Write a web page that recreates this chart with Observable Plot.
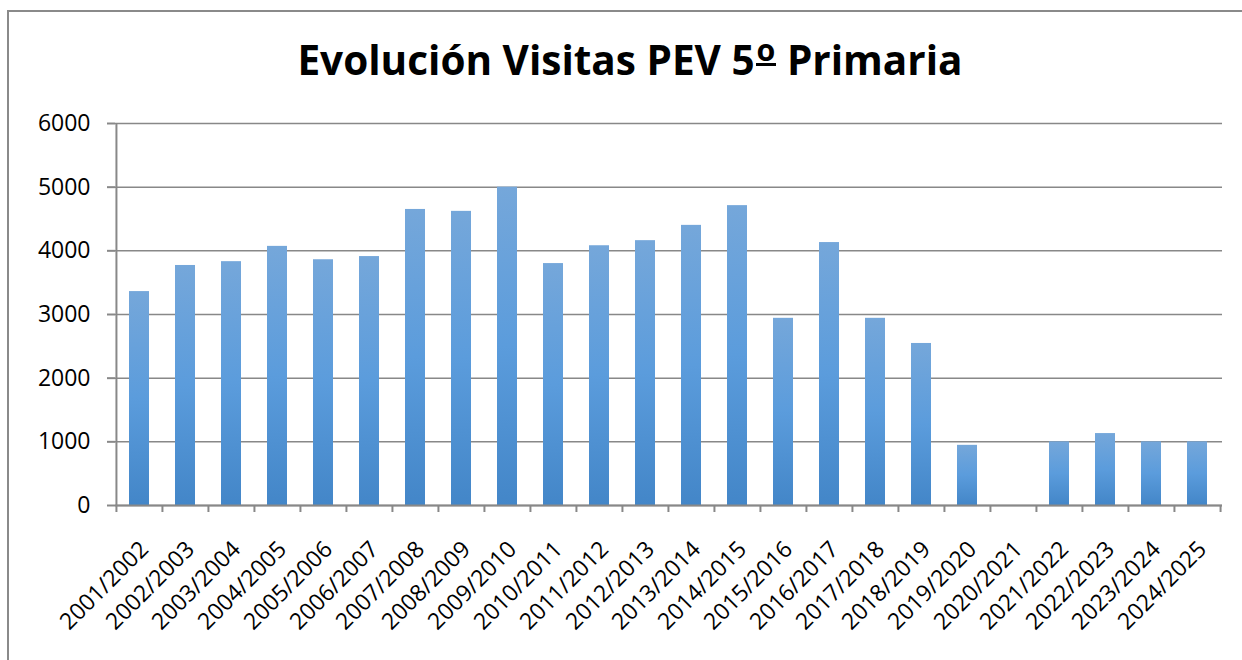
<!DOCTYPE html>
<html>
<head>
<meta charset="utf-8">
<script src="https://cdn.jsdelivr.net/npm/d3@7"></script>
<script src="https://cdn.jsdelivr.net/npm/@observablehq/plot@0.6"></script>
<style>
  html, body { margin: 0; padding: 0; background: #fff; width: 1242px; height: 660px; overflow: hidden; }
  #wrap { position: relative; width: 1242px; height: 660px; }
  #border { position: absolute; left: 7px; top: 10px; width: 1300px; height: 700px; border: 2px solid #8a8a8a; box-sizing: border-box; }
  #title { position: absolute; left: 0; width: 1260px; top: 33px; text-align: center; font-family: "Open Sans", sans-serif; font-weight: 700; font-size: 40.5px; color: #000; line-height: 54px; }
  #title .ord { display: inline-block; line-height: 0.9; border-bottom: 3px solid #000; vertical-align: 14px; font-size: 0.75em; padding: 0 1px; margin-left: 1px; }
  #chart { position: absolute; left: 0; top: 100px; }
</style>
</head>
<body>
<div id="wrap">
  <div id="border"></div>
  <div id="title">Evolución Visitas PEV 5<span class="ord">o</span> Primaria</div>
  <div id="chart"></div>
</div>
<script>
const cursos = ["2001/2002","2002/2003","2003/2004","2004/2005","2005/2006","2006/2007","2007/2008","2008/2009","2009/2010","2010/2011","2011/2012","2012/2013","2013/2014","2014/2015","2015/2016","2016/2017","2017/2018","2018/2019","2019/2020","2020/2021","2021/2022","2022/2023","2023/2024","2024/2025"];
const visitas = [3360,3770,3830,4070,3860,3910,4650,4620,5000,3800,4080,4160,4400,4710,2940,4130,2940,2545,945,0,1000,1130,1000,1000];
const yTicks = [0,1000,2000,3000,4000,5000,6000];

const data = cursos.map((c, i) => ({curso: c, visitas: visitas[i]}));

const W = 1242, H = 560, mL = 115, mR = 20, mT = 23, mB = 155;
const step = (W - mL - mR) / cursos.length;
const tickLen = 110; // data units below zero for tick marks
const gridColor = "#888888";

const defs = () => {
  const d = d3.create("svg:defs");
  const g = d.append("linearGradient").attr("id", "barGrad").attr("x1", 0).attr("y1", 0).attr("x2", 0).attr("y2", 1);
  g.append("stop").attr("offset", "0%").attr("stop-color", "#75a7da");
  g.append("stop").attr("offset", "50%").attr("stop-color", "#5b9cdc");
  g.append("stop").attr("offset", "100%").attr("stop-color", "#4386c8");
  return d.node();
};

const plot = Plot.plot({
  width: W, height: H,
  marginLeft: mL, marginRight: mR, marginTop: mT, marginBottom: mB,
  style: {fontFamily: "Open Sans, sans-serif", fontSize: "22px", color: "#000", background: "transparent", overflow: "visible"},
  x: {domain: cursos, paddingInner: 0.565, paddingOuter: 0.2825, label: null},
  y: {domain: [0, 6000], label: null},
  marks: [
    defs,
    Plot.gridY(yTicks, {stroke: gridColor, strokeOpacity: 1, strokeWidth: 1.5}),
    Plot.barY(data, {x: "curso", y: "visitas", fill: "url(#barGrad)"}),
    Plot.ruleY([0], {stroke: gridColor, strokeWidth: 2}),
    Plot.ruleX([cursos[0]], {dx: -step / 2, y1: -tickLen, y2: 6000, stroke: gridColor, strokeWidth: 2}),
    Plot.ruleX(cursos.slice(1), {dx: -step / 2, y1: -tickLen, y2: 0, stroke: gridColor, strokeWidth: 2}),
    Plot.ruleX([cursos[cursos.length - 1]], {dx: step / 2, y1: -tickLen, y2: 0, stroke: gridColor, strokeWidth: 2}),
    Plot.axisY(yTicks, {tickSize: 8, tickPadding: 17, tickFormat: d3.format("d"), stroke: gridColor, strokeWidth: 2, fontSize: 23, label: null}),
    Plot.axisX({tickSize: 0, tickPadding: 40, dx: 5, tickRotate: -45, fontSize: 23, label: null})
  ]
});
document.getElementById("chart").appendChild(plot);
</script>
</body>
</html>
